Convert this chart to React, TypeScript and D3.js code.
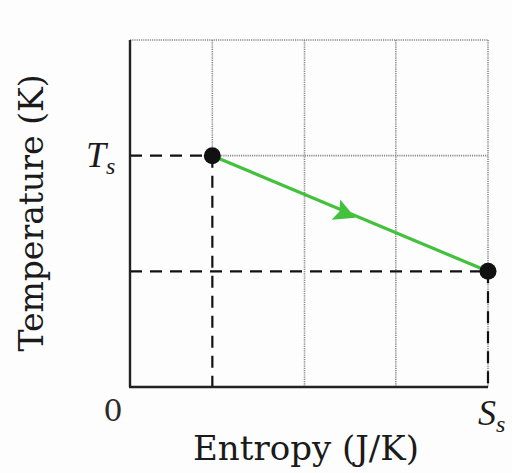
import React, { useRef, useEffect } from 'react'
import * as d3 from 'd3'

// entropy in arbitrary units, S_s = 4 ; temperature in arbitrary units, T_s = 2
const entropyGrid = [0.92, 1.95, 2.97, 4]
const tempGrid = [1, 2, 3]
const processPoints = [
  { S: 0.92, T: 2 },
  { S: 4, T: 1 },
]
const arrowAt = 0.5

const layout = { width: 512, height: 473, left: 130, right: 488, top: 40, bottom: 387 }

export default function App() {
  const ref = useRef<SVGSVGElement>(null)

  useEffect(() => {
    const svg = d3.select(ref.current)
    svg.selectAll('*').remove()

    const x = d3.scaleLinear().domain([0, 4]).range([layout.left, layout.right])
    const y = d3.scaleLinear().domain([0, 3]).range([layout.bottom, layout.top])

    const g = svg.append('g')
    const gridColor = '#8a8a8a'

    // dotted grid (verticals)
    g.selectAll('.vgrid')
      .data(entropyGrid)
      .join('line')
      .attr('class', 'vgrid')
      .attr('x1', d => x(d)).attr('x2', d => x(d))
      .attr('y1', y(3)).attr('y2', d => (d === processPoints[0].S ? y(processPoints[0].T) : y(0)))
      .attr('stroke', gridColor)
      .attr('stroke-width', 1.6)
      .attr('stroke-dasharray', '1.2,1')

    // dotted grid (horizontals)
    g.selectAll('.hgrid')
      .data(tempGrid.filter(t => t !== processPoints[1].T))
      .join('line')
      .attr('class', 'hgrid')
      .attr('x1', d => (d === processPoints[0].T ? x(processPoints[0].S) : x(0)))
      .attr('x2', x(4))
      .attr('y1', d => y(d)).attr('y2', d => y(d))
      .attr('stroke', gridColor)
      .attr('stroke-width', 1.6)
      .attr('stroke-dasharray', '1.2,1')

    // dashed guide lines to axes
    processPoints.forEach(p => {
      g.append('line')
        .attr('x1', x(0)).attr('x2', x(p.S))
        .attr('y1', y(p.T)).attr('y2', y(p.T))
        .attr('stroke', '#111').attr('stroke-width', 2.2)
        .attr('stroke-dasharray', '12,8')
      g.append('line')
        .attr('x1', x(p.S)).attr('x2', x(p.S))
        .attr('y1', y(p.T)).attr('y2', y(0))
        .attr('stroke', '#111').attr('stroke-width', 2.2)
        .attr('stroke-dasharray', '12,8')
    })

    // axes
    g.append('line')
      .attr('x1', x(0)).attr('x2', x(0)).attr('y1', y(3)).attr('y2', y(0))
      .attr('stroke', '#222').attr('stroke-width', 2.4)
    g.append('line')
      .attr('x1', x(0) - 1).attr('x2', x(4)).attr('y1', y(0)).attr('y2', y(0))
      .attr('stroke', '#222').attr('stroke-width', 2.4)

    // process line
    const green = '#42c23c'
    g.append('line')
      .attr('x1', x(processPoints[0].S)).attr('y1', y(processPoints[0].T))
      .attr('x2', x(processPoints[1].S)).attr('y2', y(processPoints[1].T))
      .attr('stroke', green).attr('stroke-width', 3.2)

    // arrow head along the line
    const ax = x(processPoints[0].S) + arrowAt * (x(processPoints[1].S) - x(processPoints[0].S))
    const ay = y(processPoints[0].T) + arrowAt * (y(processPoints[1].T) - y(processPoints[0].T))
    const ang = Math.atan2(y(processPoints[1].T) - y(processPoints[0].T), x(processPoints[1].S) - x(processPoints[0].S)) * 180 / Math.PI
    g.append('path')
      .attr('d', 'M 11 0 L -10 -11 L -6 0 L -10 11 Z')
      .attr('transform', `translate(${ax - 5},${ay}) rotate(${ang})`)
      .attr('fill', green)

    // points
    g.selectAll('.pt')
      .data(processPoints)
      .join('circle')
      .attr('class', 'pt')
      .attr('cx', d => x(d.S)).attr('cy', d => y(d.T))
      .attr('r', 8.5)
      .attr('fill', '#111')

    const italic = '"Liberation Serif", "Times New Roman", serif'
    const font = '"DejaVu Serif", serif'

    // Ts label
    const ts = g.append('text')
      .attr('x', x(0) - 44).attr('y', y(processPoints[0].T) + 11)
      .attr('font-family', italic).attr('font-size', 36).attr('font-style', 'italic')
      .attr('fill', '#1a1a1a')
    ts.append('tspan').text('T')
    ts.append('tspan').attr('font-size', 24).attr('dy', 7).text('s')

    // Ss label
    const ss = g.append('text')
      .attr('x', x(4) - 10).attr('y', y(0) + 38)
      .attr('font-family', italic).attr('font-size', 36).attr('font-style', 'italic')
      .attr('fill', '#1a1a1a')
    ss.append('tspan').text('S')
    ss.append('tspan').attr('font-size', 24).attr('dy', 7).text('s')

    // zero
    g.append('text')
      .attr('x', x(0) - 17).attr('y', y(0) + 34)
      .attr('text-anchor', 'middle')
      .attr('font-family', font).attr('font-size', 30)
      .attr('fill', '#2a2a2a')
      .text('0')

    // axis titles
    g.append('text')
      .attr('x', 306).attr('y', 460)
      .attr('text-anchor', 'middle')
      .attr('font-family', font).attr('font-size', 34)
      .attr('fill', '#1a1a1a')
      .text('Entropy (J/K)')

    g.append('text')
      .attr('transform', `translate(43, 213) rotate(-90)`)
      .attr('text-anchor', 'middle')
      .attr('font-family', font).attr('font-size', 33)
      .attr('fill', '#1a1a1a')
      .text('Temperature (K)')
  }, [])

  return (
    <div style={{ position: 'absolute', left: 0, top: 0 }}>
      <svg ref={ref} width={layout.width} height={layout.height} style={{ display: 'block', background: '#fdfdfd' }} />
    </div>
  )
}
